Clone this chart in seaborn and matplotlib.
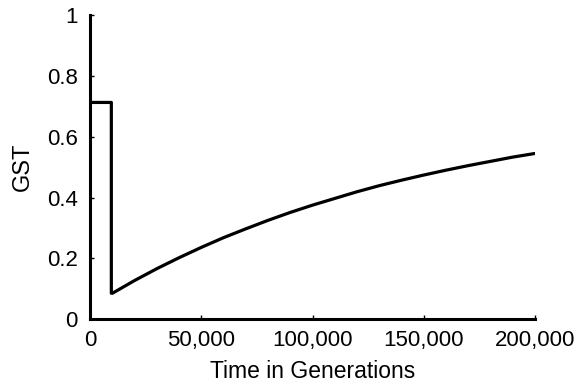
import matplotlib
matplotlib.use("Agg")
import matplotlib.pyplot as plt
import matplotlib.ticker as mticker
import seaborn as sns
import pandas as pd

# Data
generations = [0, 9500, 9500, 10000, 20000, 30000, 40000, 50000, 60000, 70000,
               80000, 90000, 100000, 110000, 120000, 130000, 140000, 150000,
               160000, 170000, 180000, 190000, 200000]
gst = [0.713, 0.713, 0.085, 0.085, 0.127, 0.166, 0.202, 0.236, 0.268, 0.297,
       0.325, 0.351, 0.375, 0.397, 0.419, 0.439, 0.457, 0.474,
       0.490, 0.505, 0.519, 0.533, 0.545]
x_ticks = [0, 50000, 100000, 150000, 200000]
y_ticks = [0, 0.2, 0.4, 0.6, 0.8, 1]
y_tick_labels = ["0", "0.2", "0.4", "0.6", "0.8", "1"]

df = pd.DataFrame({"Time in Generations": generations, "GST": gst})

sns.set_theme(style="ticks")
plt.rcParams["font.family"] = ["Liberation Sans", "DejaVu Sans"]

fig = plt.figure(figsize=(5.82, 3.91), dpi=100)
ax = fig.add_axes([0.155, 0.184, 0.764, 0.777])

sns.lineplot(data=df, x="Time in Generations", y="GST", sort=False,
             estimator=None, color="black", linewidth=2.3, ax=ax)

ax.set_xlim(0, 200000)
ax.set_ylim(0, 1)
ax.set_xticks(x_ticks)
ax.xaxis.set_major_formatter(mticker.FuncFormatter(lambda v, p: f"{int(v):,}"))
ax.set_yticks(y_ticks)
ax.set_yticklabels(y_tick_labels)

for s in ["top", "right"]:
    ax.spines[s].set_visible(False)
for s in ["left", "bottom"]:
    ax.spines[s].set_linewidth(2.2)
    ax.spines[s].set_color("black")

ax.tick_params(axis="both", direction="in", length=3, width=1, colors="black",
               labelsize=16)
ax.tick_params(axis="x", pad=8)
ax.tick_params(axis="y", pad=9)
ax.set_xlabel("Time in Generations", fontsize=16.5, labelpad=6, color="black")
ax.set_ylabel("GST", fontsize=17, labelpad=9, color="black")

fig.savefig("out.png", dpi=100, facecolor="white")
